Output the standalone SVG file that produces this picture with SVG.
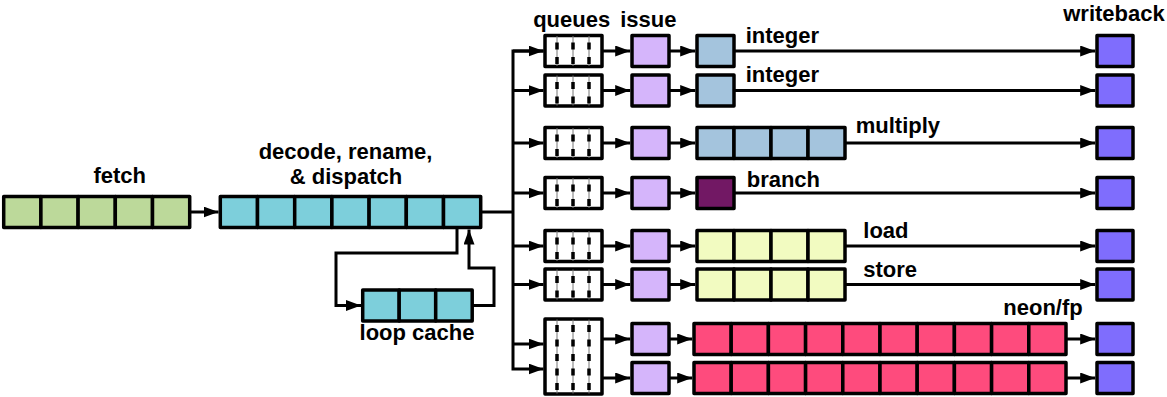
<svg xmlns="http://www.w3.org/2000/svg" width="1167" height="397" viewBox="0 0 1167 397">
<style>
.c{stroke:#000;stroke-width:3.5;stroke-linejoin:round}
.fe{fill:#bcd99a}
.de{fill:#7dcfdb}
.is{fill:#d5b5fb}
.in{fill:#a4c4dd}
.br{fill:#721864}
.ls{fill:#f2fbc1}
.ne{fill:#fe4b7d}
.wb{fill:#7f6dfd}
.q{fill:#fff}
.thin{stroke:#777;stroke-width:1}
.dash{stroke:#000;stroke-width:3.5;stroke-dasharray:7 7.5}
.w{fill:none;stroke:#000;stroke-width:3;stroke-linejoin:miter}
text{font-family:"Liberation Sans",Arial,Helvetica,sans-serif;font-weight:bold;font-size:22px;fill:#000}
</style>
<defs>
<marker id="ah" viewBox="0 0 15 11" refX="15" refY="5.5" markerWidth="15" markerHeight="11" markerUnits="userSpaceOnUse" orient="auto">
<path d="M0,0 L15,5.5 L0,11 z" fill="#000"/>
</marker>
</defs>

<g id="connectors">
<path class="w" d="M189.7,212 H218.5" marker-end="url(#ah)"/>
<path class="w" d="M457,229 V253 H336 V305.5 H361" marker-end="url(#ah)"/>
<path class="w" d="M472.2,305.5 H494 V268 H469 V229.5" marker-end="url(#ah)"/>
<path class="w" d="M482,212 H513"/>
<path class="w" d="M543.5,51 H513 V369 H543.5" marker-end="url(#ah)"/>
<path class="w" d="M513,51 H543.5" marker-end="url(#ah)"/>
<path class="w" d="M513,90.5 H543.5" marker-end="url(#ah)"/>
<path class="w" d="M513,143 H543.5" marker-end="url(#ah)"/>
<path class="w" d="M513,193 H543.5" marker-end="url(#ah)"/>
<path class="w" d="M513,246 H543.5" marker-end="url(#ah)"/>
<path class="w" d="M513,284.5 H543.5" marker-end="url(#ah)"/>
<path class="w" d="M513,344 H543.5" marker-end="url(#ah)"/>
<path class="w" d="M602,51 H630.2" marker-end="url(#ah)"/>
<path class="w" d="M602,90.5 H630.2" marker-end="url(#ah)"/>
<path class="w" d="M602,143 H630.2" marker-end="url(#ah)"/>
<path class="w" d="M602,193 H630.2" marker-end="url(#ah)"/>
<path class="w" d="M602,246 H630.2" marker-end="url(#ah)"/>
<path class="w" d="M602,284.5 H630.2" marker-end="url(#ah)"/>
<path class="w" d="M602,339 H630.2" marker-end="url(#ah)"/>
<path class="w" d="M602,378 H630.2" marker-end="url(#ah)"/>
<path class="w" d="M669,51 H695.2" marker-end="url(#ah)"/>
<path class="w" d="M669,90.5 H695.2" marker-end="url(#ah)"/>
<path class="w" d="M669,143 H695.2" marker-end="url(#ah)"/>
<path class="w" d="M669,193 H695.2" marker-end="url(#ah)"/>
<path class="w" d="M669,246 H695.2" marker-end="url(#ah)"/>
<path class="w" d="M669,284.5 H695.2" marker-end="url(#ah)"/>
<path class="w" d="M669,339 H692.2" marker-end="url(#ah)"/>
<path class="w" d="M669,378 H692.2" marker-end="url(#ah)"/>
<path class="w" d="M734,51 H1095.2" marker-end="url(#ah)"/>
<path class="w" d="M734,90.5 H1095.2" marker-end="url(#ah)"/>
<path class="w" d="M845,143 H1095.2" marker-end="url(#ah)"/>
<path class="w" d="M734,193 H1095.2" marker-end="url(#ah)"/>
<path class="w" d="M845,246 H1095.2" marker-end="url(#ah)"/>
<path class="w" d="M845,284.5 H1095.2" marker-end="url(#ah)"/>
<path class="w" d="M1066,339 H1095.2" marker-end="url(#ah)"/>
<path class="w" d="M1066,378 H1095.2" marker-end="url(#ah)"/>
</g>

<g id="fetch">
<rect class="c fe" x="3.7" y="196.5" width="37.2" height="31"/>
<rect class="c fe" x="40.9" y="196.5" width="37.2" height="31"/>
<rect class="c fe" x="78.1" y="196.5" width="37.2" height="31"/>
<rect class="c fe" x="115.3" y="196.5" width="37.2" height="31"/>
<rect class="c fe" x="152.5" y="196.5" width="37.2" height="31"/>
<text x="119.7" y="183" text-anchor="middle">fetch</text>
</g>

<g id="decode">
<rect class="c de" x="220.3" y="196.5" width="37.2" height="31"/>
<rect class="c de" x="257.5" y="196.5" width="37.2" height="31"/>
<rect class="c de" x="294.7" y="196.5" width="37.2" height="31"/>
<rect class="c de" x="331.9" y="196.5" width="37.2" height="31"/>
<rect class="c de" x="369.1" y="196.5" width="37.2" height="31"/>
<rect class="c de" x="406.3" y="196.5" width="37.2" height="31"/>
<rect class="c de" x="443.5" y="196.5" width="37.2" height="31"/>
<text x="345.5" y="159" text-anchor="middle">decode, rename,</text>
<text x="346" y="184" text-anchor="middle">&amp; dispatch</text>
</g>

<g id="loop-cache">
<rect class="c de" x="362.7" y="290" width="36.5" height="31"/>
<rect class="c de" x="399.2" y="290" width="36.5" height="31"/>
<rect class="c de" x="435.7" y="290" width="36.5" height="31"/>
<text x="417" y="340" text-anchor="middle">loop cache</text>
</g>

<g id="queues">
<text x="571.7" y="27" text-anchor="middle">queues</text>
<g id="q1"><rect class="c q" x="545" y="35.5" width="57" height="31"/><path class="thin" d="M557,36 V66 M573,36 V66 M589,36 V66"/><path class="dash" d="M557,42.5 V66 M573,42.5 V66 M589,42.5 V66"/></g>
<g id="q2"><rect class="c q" x="545" y="75" width="57" height="31"/><path class="thin" d="M557,75.5 V105.5 M573,75.5 V105.5 M589,75.5 V105.5"/><path class="dash" d="M557,82 V105.5 M573,82 V105.5 M589,82 V105.5"/></g>
<g id="q3"><rect class="c q" x="545" y="127.5" width="57" height="31"/><path class="thin" d="M557,128 V158 M573,128 V158 M589,128 V158"/><path class="dash" d="M557,134.5 V158 M573,134.5 V158 M589,134.5 V158"/></g>
<g id="q4"><rect class="c q" x="545" y="177.5" width="57" height="31"/><path class="thin" d="M557,178 V208 M573,178 V208 M589,178 V208"/><path class="dash" d="M557,184.5 V208 M573,184.5 V208 M589,184.5 V208"/></g>
<g id="q5"><rect class="c q" x="545" y="230.5" width="57" height="31"/><path class="thin" d="M557,231 V261 M573,231 V261 M589,231 V261"/><path class="dash" d="M557,237.5 V261 M573,237.5 V261 M589,237.5 V261"/></g>
<g id="q6"><rect class="c q" x="545" y="269" width="57" height="31"/><path class="thin" d="M557,269.5 V299.5 M573,269.5 V299.5 M589,269.5 V299.5"/><path class="dash" d="M557,276 V299.5 M573,276 V299.5 M589,276 V299.5"/></g>
<g id="q7"><rect class="c q" x="545" y="319" width="57" height="75"/><path class="thin" d="M557,319.5 V393.5 M573,319.5 V393.5 M589,319.5 V393.5"/><path class="dash" d="M557,325 V393 M573,325 V393 M589,325 V393"/></g>
</g>

<g id="issue">
<text x="648.3" y="27" text-anchor="middle">issue</text>
<rect class="c is" x="632" y="35.5" width="37" height="31"/>
<rect class="c is" x="632" y="75" width="37" height="31"/>
<rect class="c is" x="632" y="127.5" width="37" height="31"/>
<rect class="c is" x="632" y="177.5" width="37" height="31"/>
<rect class="c is" x="632" y="230.5" width="37" height="31"/>
<rect class="c is" x="632" y="269" width="37" height="31"/>
<rect class="c is" x="632" y="323.5" width="37" height="31"/>
<rect class="c is" x="632" y="362.5" width="37" height="31"/>
</g>

<g id="integer1">
<rect class="c in" x="697" y="35.5" width="37" height="31"/>
<text x="745.7" y="43.3">integer</text>
</g>
<g id="integer2">
<rect class="c in" x="697" y="75" width="37" height="31"/>
<text x="745.7" y="81.7">integer</text>
</g>
<g id="multiply">
<rect class="c in" x="697" y="127.5" width="37" height="31"/>
<rect class="c in" x="734" y="127.5" width="37" height="31"/>
<rect class="c in" x="771" y="127.5" width="37" height="31"/>
<rect class="c in" x="808" y="127.5" width="37" height="31"/>
<text x="855.7" y="133">multiply</text>
</g>
<g id="branch">
<rect class="c br" x="697" y="177.5" width="37" height="31"/>
<text x="746.7" y="186.7">branch</text>
</g>
<g id="load">
<rect class="c ls" x="697" y="230.5" width="37" height="31"/>
<rect class="c ls" x="734" y="230.5" width="37" height="31"/>
<rect class="c ls" x="771" y="230.5" width="37" height="31"/>
<rect class="c ls" x="808" y="230.5" width="37" height="31"/>
<text x="863.3" y="238.3">load</text>
</g>
<g id="store">
<rect class="c ls" x="697" y="269" width="37" height="31"/>
<rect class="c ls" x="734" y="269" width="37" height="31"/>
<rect class="c ls" x="771" y="269" width="37" height="31"/>
<rect class="c ls" x="808" y="269" width="37" height="31"/>
<text x="863.3" y="277.3">store</text>
</g>
<g id="neon1">
<rect class="c ne" x="694" y="323.5" width="37.2" height="31"/>
<rect class="c ne" x="731.2" y="323.5" width="37.2" height="31"/>
<rect class="c ne" x="768.4" y="323.5" width="37.2" height="31"/>
<rect class="c ne" x="805.6" y="323.5" width="37.2" height="31"/>
<rect class="c ne" x="842.8" y="323.5" width="37.2" height="31"/>
<rect class="c ne" x="880" y="323.5" width="37.2" height="31"/>
<rect class="c ne" x="917.2" y="323.5" width="37.2" height="31"/>
<rect class="c ne" x="954.4" y="323.5" width="37.2" height="31"/>
<rect class="c ne" x="991.6" y="323.5" width="37.2" height="31"/>
<rect class="c ne" x="1028.8" y="323.5" width="37.2" height="31"/>
<text x="1003.3" y="315">neon/fp</text>
</g>
<g id="neon2">
<rect class="c ne" x="694" y="362.5" width="37.2" height="31"/>
<rect class="c ne" x="731.2" y="362.5" width="37.2" height="31"/>
<rect class="c ne" x="768.4" y="362.5" width="37.2" height="31"/>
<rect class="c ne" x="805.6" y="362.5" width="37.2" height="31"/>
<rect class="c ne" x="842.8" y="362.5" width="37.2" height="31"/>
<rect class="c ne" x="880" y="362.5" width="37.2" height="31"/>
<rect class="c ne" x="917.2" y="362.5" width="37.2" height="31"/>
<rect class="c ne" x="954.4" y="362.5" width="37.2" height="31"/>
<rect class="c ne" x="991.6" y="362.5" width="37.2" height="31"/>
<rect class="c ne" x="1028.8" y="362.5" width="37.2" height="31"/>
</g>

<g id="writeback">
<text x="1114" y="20.7" text-anchor="middle">writeback</text>
<rect class="c wb" x="1097" y="35.5" width="36" height="31"/>
<rect class="c wb" x="1097" y="75" width="36" height="31"/>
<rect class="c wb" x="1097" y="127.5" width="36" height="31"/>
<rect class="c wb" x="1097" y="177.5" width="36" height="31"/>
<rect class="c wb" x="1097" y="230.5" width="36" height="31"/>
<rect class="c wb" x="1097" y="269" width="36" height="31"/>
<rect class="c wb" x="1097" y="323.5" width="36" height="31"/>
<rect class="c wb" x="1097" y="362.5" width="36" height="31"/>
</g>
</svg>
